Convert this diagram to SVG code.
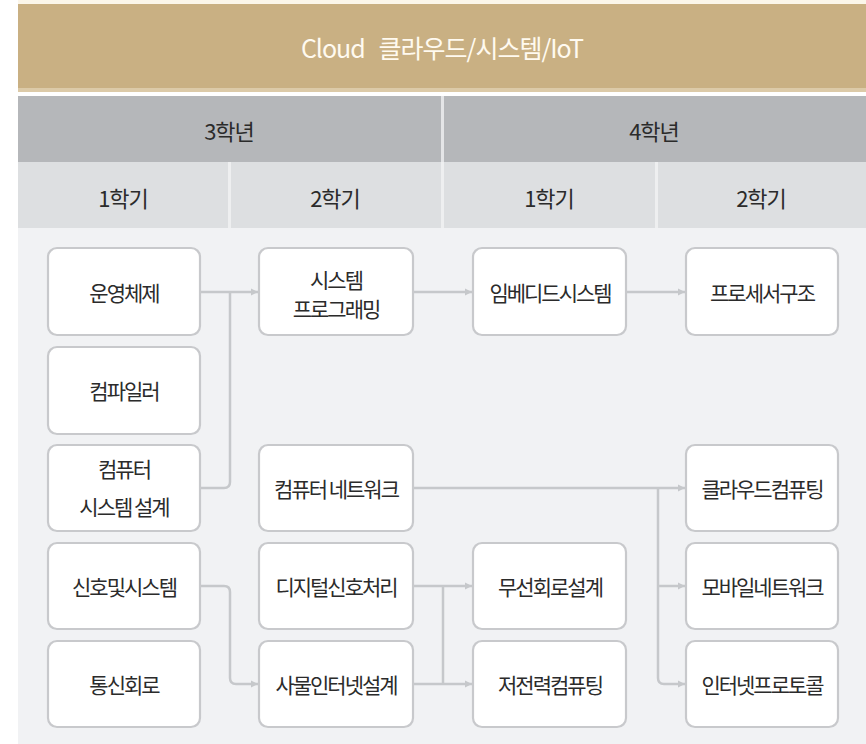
<svg xmlns="http://www.w3.org/2000/svg" width="866" height="744" viewBox="0 0 866 744">
<defs>
<style>
.node rect{fill:#fff;stroke:#c8c9cc;stroke-width:2.2}
.lbl{font-family:"Noto Sans CJK KR","Liberation Sans",sans-serif;font-size:21px;letter-spacing:-2px;fill:#2b2b2b;text-anchor:middle;dominant-baseline:central}
.hdr{font-family:"Noto Sans CJK KR","Liberation Sans",sans-serif;font-size:22px;letter-spacing:-1px;fill:#2b2b2b;text-anchor:middle;dominant-baseline:central}
.con path{fill:none;stroke:#c6c8cb;stroke-width:2.5}
.arr{marker-end:url(#ah)}
</style>
<marker id="ah" markerUnits="userSpaceOnUse" markerWidth="8" markerHeight="8" refX="7" refY="4" orient="auto">
<path d="M0,0.5 L7,4 L0,7.5 Z" fill="#c6c8cb"/>
</marker>
</defs>
<rect x="0" y="0" width="866" height="744" fill="#ffffff"/>
<g id="header">
<rect x="18" y="0" width="848" height="4" fill="#fbf6ea"/>
<rect x="18" y="4" width="848" height="84" fill="#c9b083"/>
<rect x="18" y="88" width="848" height="4" fill="#dccaa8"/>
<text x="442" y="47" font-family="'Noto Sans CJK KR','Liberation Sans',sans-serif" font-size="25" letter-spacing="-1" fill="#fffaf0" text-anchor="middle" dominant-baseline="central" xml:space="preserve">Cloud   클라우드/시스템/IoT</text>
<rect x="18" y="96" width="848" height="66" fill="#b5b7ba"/>
<rect x="441" y="96" width="3" height="66" fill="#e4e5e7"/>
<text class="hdr" x="229" y="130">3학년</text>
<text class="hdr" x="654" y="130">4학년</text>
<rect x="18" y="162" width="848" height="66" fill="#dddfe1"/>
<rect x="228" y="162" width="3" height="66" fill="#eeeff0"/>
<rect x="441" y="162" width="3" height="66" fill="#eeeff0"/>
<rect x="655" y="162" width="3" height="66" fill="#eeeff0"/>
<text class="hdr" x="123" y="197">1학기</text>
<text class="hdr" x="335" y="197">2학기</text>
<text class="hdr" x="549" y="197">1학기</text>
<text class="hdr" x="761" y="197">2학기</text>
<rect x="18" y="228" width="848" height="516" fill="#f1f2f4"/>
</g>
<g class="con" id="connectors">
<path class="arr" d="M200,292 H258"/>
<path d="M200,488 H224 Q230,488 230,482 V292"/>
<path class="arr" d="M413,292 H472"/>
<path class="arr" d="M626,292 H685"/>
<path class="arr" d="M413,488 H685"/>
<path class="arr" d="M658,488 V678 Q658,684 664,684 H685"/>
<path class="arr" d="M658,586 H685"/>
<path class="arr" d="M200,586 H224 Q230,586 230,592 V678 Q230,684 236,684 H258"/>
<path class="arr" d="M413,586 H472"/>
<path class="arr" d="M413,684 H472"/>
<path d="M443,586 V684"/>
</g>
<g class="node" id="n-os"><rect x="48" y="248" width="152" height="87" rx="9"/><text class="lbl" x="124" y="292">운영체제</text></g>
<g class="node" id="n-compiler"><rect x="48" y="347" width="152" height="87" rx="9"/><text class="lbl" x="124" y="390">컴파일러</text></g>
<g class="node" id="n-csd"><rect x="48" y="445" width="152" height="86" rx="9"/><text class="lbl" x="124" y="468">컴퓨터</text><text class="lbl" x="124" y="506">시스템 설계</text></g>
<g class="node" id="n-signal"><rect x="48" y="543" width="152" height="86" rx="9"/><text class="lbl" x="124" y="586">신호및시스템</text></g>
<g class="node" id="n-comm"><rect x="48" y="641" width="152" height="86" rx="9"/><text class="lbl" x="124" y="684">통신회로</text></g>
<g class="node" id="n-sysprog"><rect x="259" y="248" width="154" height="87" rx="9"/><text class="lbl" x="336" y="279">시스템</text><text class="lbl" x="336" y="308">프로그래밍</text></g>
<g class="node" id="n-net"><rect x="259" y="445" width="154" height="86" rx="9"/><text class="lbl" x="336" y="488">컴퓨터 네트워크</text></g>
<g class="node" id="n-dsp"><rect x="259" y="543" width="154" height="86" rx="9"/><text class="lbl" x="336" y="586">디지털신호처리</text></g>
<g class="node" id="n-iot"><rect x="259" y="641" width="154" height="86" rx="9"/><text class="lbl" x="336" y="684">사물인터넷설계</text></g>
<g class="node" id="n-embedded"><rect x="473" y="248" width="153" height="87" rx="9"/><text class="lbl" x="550" y="292">임베디드시스템</text></g>
<g class="node" id="n-rf"><rect x="473" y="543" width="153" height="86" rx="9"/><text class="lbl" x="550" y="586">무선회로설계</text></g>
<g class="node" id="n-lowpower"><rect x="473" y="641" width="153" height="86" rx="9"/><text class="lbl" x="550" y="684">저전력컴퓨팅</text></g>
<g class="node" id="n-arch"><rect x="686" y="248" width="152" height="87" rx="9"/><text class="lbl" x="762" y="292">프로세서구조</text></g>
<g class="node" id="n-cloud"><rect x="686" y="445" width="152" height="86" rx="9"/><text class="lbl" x="762" y="488">클라우드컴퓨팅</text></g>
<g class="node" id="n-mobile"><rect x="686" y="543" width="152" height="86" rx="9"/><text class="lbl" x="762" y="586">모바일네트워크</text></g>
<g class="node" id="n-inet"><rect x="686" y="641" width="152" height="86" rx="9"/><text class="lbl" x="762" y="684">인터넷프로토콜</text></g>
</svg>
